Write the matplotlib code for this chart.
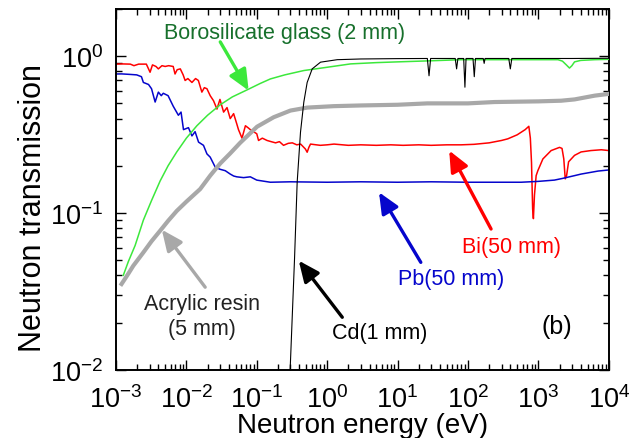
import numpy as np
import matplotlib
matplotlib.use('Agg')
import matplotlib.pyplot as plt

plt.rcParams['font.family'] = ['Liberation Sans', 'DejaVu Sans']
plt.rcParams['mathtext.fontset'] = 'custom'
plt.rcParams['mathtext.rm'] = 'Liberation Sans'
plt.rcParams['mathtext.it'] = 'Liberation Sans:italic'
plt.rcParams['axes.unicode_minus'] = False

# Bi (50 mm)
bi_e = [1.0e-3, 1.2e-3, 1.6e-3, 1.8e-3, 2.1e-3, 2.7e-3, 3.05e-3, 3.3e-3, 3.7e-3, 4.0e-3,
        4.5e-3, 5.0e-3, 5.6e-3, 6.5e-3, 6.9e-3, 7.4e-3, 8.2e-3, 9.0e-3, 9.6e-3, 0.0105,
        0.012, 0.0135, 0.0148, 0.0166, 0.018, 0.0196, 0.0218, 0.0243, 0.0272, 0.030,
        0.0338, 0.0378, 0.042, 0.0469, 0.052, 0.055, 0.0617, 0.069, 0.075, 0.081,
        0.090, 0.100, 0.106, 0.12, 0.14, 0.16, 0.185, 0.21, 0.24, 0.28,
        0.32, 0.37, 0.42, 0.49, 0.52, 0.55, 0.58, 0.7, 0.8, 1.0,
        1.25, 2.0, 3.0, 5.0, 8.0, 12, 20, 30, 50, 80,
        122, 200, 300, 368, 500, 650, 733, 770, 800, 830,
        851, 881, 931, 984, 1160, 1520, 2000, 2170, 2300, 2410,
        2520, 2690, 3270, 4050, 5570, 7850, 10000]
bi_t = [0.89, 0.893, 0.89, 0.87, 0.89, 0.89, 0.79, 0.88, 0.86, 0.83,
        0.87, 0.86, 0.87, 0.86, 0.77, 0.82, 0.83, 0.76, 0.70, 0.72,
        0.68, 0.72, 0.70, 0.59, 0.63, 0.62, 0.56, 0.52, 0.46, 0.53,
        0.44, 0.47, 0.40, 0.43, 0.37, 0.34, 0.30, 0.36, 0.35, 0.34,
        0.33, 0.32, 0.29, 0.30, 0.29, 0.285, 0.28, 0.285, 0.27, 0.278,
        0.28, 0.272, 0.275, 0.256, 0.244, 0.262, 0.275, 0.272, 0.27, 0.272,
        0.275, 0.27, 0.272, 0.27, 0.272, 0.27, 0.272, 0.27, 0.272, 0.272,
        0.274, 0.28, 0.29, 0.297, 0.315, 0.34, 0.357, 0.30, 0.21, 0.106,
        0.092, 0.13, 0.173, 0.186, 0.221, 0.250, 0.262, 0.258, 0.221, 0.165,
        0.173, 0.212, 0.233, 0.245, 0.250, 0.253, 0.250]

# Pb (50 mm)
pb_e = [1.0e-3, 1.2e-3, 1.6e-3, 1.97e-3, 2.3e-3, 2.45e-3, 2.9e-3, 3.2e-3, 3.6e-3, 4.0e-3,
        4.4e-3, 4.7e-3, 5.5e-3, 6.5e-3, 7.7e-3, 8.4e-3, 9.1e-3, 0.0107, 0.012, 0.0133,
        0.0149, 0.0175, 0.0196, 0.0218, 0.0257, 0.030, 0.0357, 0.042, 0.047, 0.052,
        0.065, 0.081, 0.10, 0.156, 0.3, 1.0, 3.0, 10, 30, 100,
        300, 569, 1000, 1690, 2200, 3270, 4050, 7050, 10000]
pb_t = [0.77, 0.771, 0.765, 0.76, 0.74, 0.68, 0.66, 0.62, 0.51, 0.59,
        0.56, 0.58, 0.56, 0.48, 0.42, 0.44, 0.34, 0.35, 0.31, 0.33,
        0.283, 0.27, 0.238, 0.227, 0.196, 0.19, 0.186, 0.177, 0.172, 0.17,
        0.168, 0.17, 0.162, 0.157, 0.158, 0.157, 0.158, 0.157, 0.158, 0.157,
        0.157, 0.157, 0.159, 0.162, 0.166, 0.173, 0.177, 0.185, 0.188]

# Borosilicate glass (2 mm)
bs_e = [1.27e-3, 1.5e-3, 1.87e-3, 2.45e-3, 3.2e-3, 4.24e-3, 5.5e-3, 7.3e-3, 0.010, 0.0141,
        0.020, 0.0303, 0.045, 0.073, 0.112, 0.156, 0.25, 0.466, 1.0, 2.15,
        5.0, 10, 30, 79, 410, 1900, 2200, 2500, 2770, 3000,
        3270, 4000, 6300, 10000]
bs_t = [0.040, 0.049, 0.062, 0.090, 0.12, 0.160, 0.20, 0.245, 0.30, 0.36,
        0.42, 0.49, 0.55, 0.61, 0.67, 0.716, 0.76, 0.81, 0.85, 0.893,
        0.91, 0.92, 0.935, 0.95, 0.95, 0.95, 0.93, 0.88, 0.84, 0.87,
        0.92, 0.94, 0.95, 0.955]

# Acrylic resin (5 mm)
ac_e = [1.2e-3, 1.5e-3, 1.76e-3, 2.45e-3, 3.2e-3, 4.24e-3, 5.5e-3, 7.3e-3, 0.010, 0.0157,
        0.0218, 0.0303, 0.042, 0.058, 0.101, 0.174, 0.301, 0.52, 1.24, 3.0,
        10, 26.5, 100, 237, 1000, 2110, 3270, 6300, 10000]
ac_t = [0.0352, 0.041, 0.046, 0.056, 0.066, 0.077, 0.089, 0.103, 0.118, 0.142,
        0.173, 0.207, 0.24, 0.28, 0.355, 0.408, 0.45, 0.47, 0.48, 0.485,
        0.49, 0.50, 0.50, 0.51, 0.515, 0.52, 0.53, 0.56, 0.575]

# Cd (1 mm)
cd_e = [0.29, 0.298, 0.344, 0.375, 0.418, 0.466, 0.52, 0.613, 0.805, 1.39,
        3.0, 10, 26.5, 28, 29.5, 66, 69, 72, 87, 90.6,
        94, 118, 123, 128, 165, 170, 175, 380, 400, 420,
        1000, 3000, 10000]
cd_t = [0.008, 0.010, 0.051, 0.157, 0.327, 0.509, 0.68, 0.83, 0.916, 0.95,
        0.96, 0.965, 0.967, 0.75, 0.967, 0.967, 0.83, 0.967, 0.967, 0.634,
        0.967, 0.967, 0.74, 0.967, 0.967, 0.90, 0.967, 0.967, 0.83, 0.967,
        0.967, 0.967, 0.97]

RED = '#ff0000'
BLUE = '#0505cc'
GREEN = '#3ce83c'
GRAY = '#a8a8a8'
DARKGREEN = '#17702c'

fig = plt.figure(figsize=(6.31, 4.39), dpi=100)
ax = fig.add_axes([0.1838, 0.1556, 0.7809, 0.8216])

ax.plot(bi_e, bi_t, color=RED, lw=1.1, zorder=2)
ax.plot(pb_e, pb_t, color=BLUE, lw=1.1, zorder=2)
ax.plot(ac_e, ac_t, color=GRAY, lw=3.0, zorder=3)
ax.plot(bs_e, bs_t, color=GREEN, lw=1.1, zorder=4)
ax.plot(cd_e, cd_t, color='black', lw=0.8, zorder=5)

ax.set_xscale('log')
ax.set_yscale('log')
ax.set_xlim(1e-3, 1e4)
ax.set_ylim(1e-2, 2)

ax.xaxis.set_major_locator(matplotlib.ticker.LogLocator(base=10, numticks=20))
ax.xaxis.set_minor_locator(matplotlib.ticker.LogLocator(base=10, subs=np.arange(2, 10), numticks=20))
ax.yaxis.set_major_locator(matplotlib.ticker.LogLocator(base=10, numticks=20))
ax.yaxis.set_minor_locator(matplotlib.ticker.LogLocator(base=10, subs=np.arange(2, 10), numticks=20))
ax.xaxis.set_minor_formatter(matplotlib.ticker.NullFormatter())
ax.yaxis.set_minor_formatter(matplotlib.ticker.NullFormatter())

ax.tick_params(which='both', direction='in', top=True, right=True, width=1.0, labelsize=19.5)
ax.tick_params(which='major', length=7)
ax.tick_params(which='minor', length=4.5)
ax.tick_params(axis='x', which='major', pad=11)
ax.tick_params(axis='y', which='major', pad=9)
for s in ax.spines.values():
    s.set_linewidth(1.4)

ax.set_xlabel('Neutron energy (eV)', fontsize=20)
ax.set_ylabel('Neutron transmission', fontsize=22)
ax.xaxis.set_label_coords(0.5, -0.118)
ax.yaxis.set_label_coords(-0.137, 0.45)

arrow = '-|>,head_length=0.9,head_width=0.4'


def note(text, xy_text, tip, tail, color, tcolor, ha='center'):
    ax.text(xy_text[0], xy_text[1], text, transform=ax.transAxes, ha=ha, va='center',
            fontsize=15.5, color=tcolor, linespacing=1.25, zorder=6)
    ax.annotate('', xy=tip, xytext=tail, xycoords='data', textcoords='data',
                arrowprops=dict(arrowstyle=arrow, color=color, lw=2.4,
                                mutation_scale=14, shrinkA=0, shrinkB=0),
                zorder=6)


note('Borosilicate glass (2 mm)', (0.343, 0.936), (0.0767, 0.603), (0.0303, 1.234), GREEN, DARKGREEN)
note('Acrylic resin\n(5 mm)', (0.174, 0.149), (4.48e-3, 0.0782), (0.0185, 0.0336), GRAY, '#222222')
note('Cd(1 mm)', (0.536, 0.103), (0.395, 0.0496), (1.64, 0.0216), 'black', 'black')
note('Pb(50 mm)', (0.680, 0.254), (5.45, 0.1355), (21.4, 0.0484), BLUE, BLUE)
note('Bi(50 mm)', (0.802, 0.342), (54.2, 0.25), (213, 0.079), RED, RED)
ax.text(0.895, 0.121, '(b)', transform=ax.transAxes, ha='center', va='center', fontsize=18)

fig.savefig('out.png', dpi=100)
